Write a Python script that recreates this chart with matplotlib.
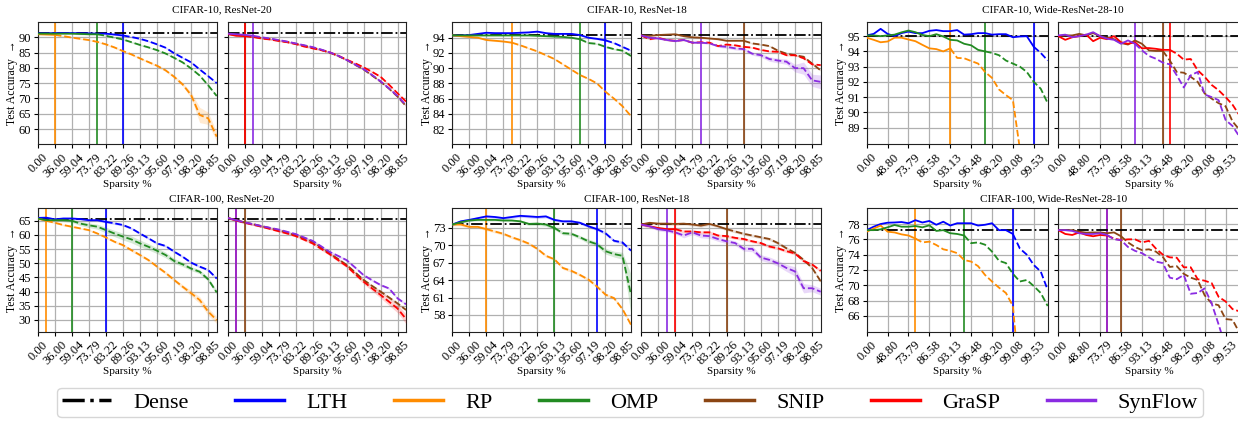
import numpy as np
import matplotlib.pyplot as plt
from matplotlib.lines import Line2D

plt.rcParams['font.family'] = ['Liberation Serif', 'DejaVu Serif']
plt.rcParams['font.size'] = 8

W, H = 1238, 421

methods_left = ['LTH', 'RP', 'OMP']
methods_right = ['SNIP', 'GraSP', 'SynFlow']
colors = {'Dense': 'black', 'LTH': '#0000ff', 'RP': '#ff8c00', 'OMP': '#228b22',
          'SNIP': '#8b4513', 'GraSP': '#ff0000', 'SynFlow': '#8a2be2'}

ticks_resnet = ['0.00', '36.00', '59.04', '73.79', '83.22', '89.26', '93.13',
                '95.60', '97.19', '98.20', '98.85']
ticks_wrn = ['0.00', '48.80', '73.79', '86.58', '93.13', '96.48', '98.20',
             '99.08', '99.53']

# ---- CIFAR-10, ResNet-20
c10_r20_dense = 91.3
c10_r20 = {
    'LTH': [91.3, 91.3, 91.4, 91.4, 91.4, 91.3, 91.3, 91.2, 91.2, 90.9, 90.6, 90.1, 89.5, 88.7, 87.7, 86.6, 84.8, 83.3, 81.8, 79.5, 77.3, 75.0],
    'RP': [91.0, 90.9, 90.8, 90.4, 89.9, 89.5, 89.1, 88.5, 87.7, 86.7, 85.5, 84.4, 83.1, 81.9, 80.7, 79.2, 77.1, 74.6, 71.1, 64.6, 63.5, 57.5],
    'OMP': [91.2, 91.2, 91.2, 91.2, 91.2, 91.1, 91.0, 91.0, 90.5, 89.9, 89.3, 88.4, 87.5, 86.7, 85.8, 84.7, 83.3, 81.8, 79.8, 77.5, 74.3, 70.8],
    'SNIP': [91.1, 90.8, 90.5, 90.2, 89.8, 89.4, 89.0, 88.5, 87.9, 87.3, 86.6, 85.9, 85.0, 83.9, 82.6, 81.0, 79.5, 77.5, 75.5, 73.2, 70.6, 67.5],
    'GraSP': [91.1, 90.5, 90.4, 90.1, 89.6, 89.3, 88.8, 88.4, 87.8, 87.0, 86.4, 85.8, 85.1, 84.0, 82.7, 81.5, 80.2, 78.7, 77.1, 74.5, 71.7, 69.0],
    'SynFlow': [91.2, 91.0, 90.8, 90.5, 90.0, 89.6, 89.1, 88.6, 88.0, 87.4, 86.8, 86.0, 85.1, 84.0, 82.6, 81.1, 79.6, 77.7, 75.6, 73.3, 70.8, 67.8],
}
c10_r20_cut = {'LTH': 10, 'RP': 2, 'OMP': 7, 'SNIP': 2, 'GraSP': 2, 'SynFlow': 3}
c10_r20_std = {'RP': [0.2, 0.2, 0.2, 0.2, 0.2, 0.2, 0.2, 0.2, 0.3, 0.3, 0.3, 0.3, 0.3, 0.3, 0.4, 0.4, 0.5, 0.6, 1.0, 2.5, 2.0, 1.5]}

# ---- CIFAR-10, ResNet-18
c10_r18_dense = 94.3
c10_r18 = {
    'LTH': [94.3, 94.3, 94.35, 94.5, 94.65, 94.6, 94.6, 94.6, 94.65, 94.7, 94.8, 94.6, 94.5, 94.5, 94.5, 94.35, 94.0, 93.85, 93.65, 93.3, 92.8, 92.3],
    'RP': [94.3, 94.2, 94.1, 94.0, 93.7, 93.6, 93.5, 93.35, 93.0, 92.6, 92.2, 91.7, 91.2, 90.5, 89.8, 89.1, 88.6, 88.0, 86.9, 86.0, 85.0, 83.7],
    'OMP': [94.3, 94.3, 94.3, 94.3, 94.3, 94.3, 94.3, 94.3, 94.3, 94.3, 94.25, 94.2, 94.15, 94.1, 94.0, 93.8, 93.3, 93.2, 92.8, 92.5, 92.3, 91.6],
    'SNIP': [94.3, 94.25, 94.35, 94.4, 94.45, 94.2, 94.05, 94.0, 93.9, 93.8, 93.6, 93.6, 93.6, 93.25, 93.1, 92.9, 92.3, 91.9, 91.7, 91.5, 90.6, 89.7],
    'GraSP': [94.3, 93.8, 94.0, 93.7, 93.6, 93.7, 93.35, 93.4, 93.35, 92.9, 93.1, 93.0, 92.8, 92.7, 92.4, 92.2, 92.15, 91.7, 91.7, 91.3, 90.5, 90.4],
    'SynFlow': [94.3, 94.0, 93.9, 93.7, 93.55, 93.7, 93.35, 93.35, 93.25, 92.9, 92.8, 92.6, 92.5, 91.9, 91.7, 91.2, 91.0, 90.85, 90.0, 90.0, 88.4, 88.2],
}
c10_r18_cut = {'LTH': 18, 'RP': 7, 'OMP': 15, 'SNIP': 12, 'GraSP': None, 'SynFlow': 7}
c10_r18_std = {'SynFlow': [0.1, 0.1, 0.1, 0.1, 0.1, 0.1, 0.1, 0.1, 0.1, 0.15, 0.2, 0.2, 0.2, 0.2, 0.25, 0.3, 0.3, 0.35, 0.5, 0.8, 0.8, 0.9]}

# ---- CIFAR-10, Wide-ResNet-28-10
c10_wrn_dense = 95.0
c10_wrn = {
    'LTH': [95.05, 95.15, 95.48, 95.15, 95.0, 95.2, 95.3, 95.2, 95.2, 95.35, 95.4, 95.33, 95.33, 95.4, 95.1, 95.13, 95.2, 95.2, 95.1, 95.13, 95.13, 94.93, 94.98, 95.0, 94.3, 93.9, 93.4],
    'RP': [94.9, 94.76, 94.6, 94.65, 94.9, 94.9, 94.78, 94.67, 94.43, 94.2, 94.15, 94.0, 94.2, 93.57, 93.55, 93.37, 93.2, 92.65, 92.26, 91.5, 91.13, 90.8, 87.6, 84.0, 80.0, 76.0, 72.0],
    'OMP': [95.05, 95.05, 95.0, 95.05, 95.1, 95.25, 95.37, 95.26, 95.08, 95.0, 95.13, 94.98, 94.76, 94.72, 94.5, 94.4, 94.1, 94.0, 93.9, 93.75, 93.4, 93.2, 93.0, 92.65, 92.0, 91.55, 90.6],
    'SNIP': [95.0, 95.05, 95.05, 95.15, 95.05, 95.2, 95.0, 94.9, 94.8, 94.55, 94.45, 94.72, 94.5, 94.07, 94.03, 94.03, 93.4, 92.65, 92.6, 92.33, 92.0, 91.24, 90.9, 90.6, 90.4, 89.4, 88.85],
    'GraSP': [95.0, 94.76, 94.93, 95.0, 95.1, 94.67, 94.9, 94.8, 95.0, 94.6, 94.5, 94.6, 94.2, 94.22, 94.17, 94.1, 94.1, 93.85, 93.46, 93.5, 92.76, 92.33, 91.8, 91.45, 91.0, 90.5, 89.8],
    'SynFlow': [95.05, 95.1, 94.93, 95.0, 95.1, 95.26, 95.0, 94.83, 94.76, 94.5, 94.72, 94.5, 94.07, 93.7, 93.52, 93.26, 93.15, 92.43, 91.63, 92.43, 92.65, 91.17, 91.0, 90.8, 89.5, 89.1, 88.4],
}
c10_wrn_cut = {'LTH': 24, 'RP': 12, 'OMP': 17, 'SNIP': 15, 'GraSP': 16, 'SynFlow': 11}
c10_wrn_std = {}

# ---- CIFAR-100, ResNet-20
c100_r20_dense = 65.6
c100_r20 = {
    'LTH': [66.0, 66.1, 65.5, 65.8, 65.8, 65.6, 65.2, 65.2, 64.6, 64.1, 63.5, 62.3, 60.5, 58.8, 57.0, 56.1, 54.1, 52.3, 50.2, 48.8, 47.6, 44.6],
    'RP': [65.8, 65.0, 64.3, 63.5, 62.9, 62.3, 61.7, 60.5, 59.1, 57.6, 56.4, 54.6, 52.9, 51.1, 48.8, 46.6, 44.1, 41.7, 39.4, 37.0, 32.9, 29.9],
    'OMP': [65.8, 65.2, 65.2, 65.2, 65.0, 64.0, 63.4, 62.9, 61.7, 60.5, 59.4, 58.4, 57.0, 55.8, 54.4, 52.9, 50.8, 49.6, 48.1, 47.0, 44.3, 39.7],
    'SNIP': [66.0, 65.2, 64.4, 63.8, 63.1, 62.4, 61.7, 60.8, 59.9, 58.8, 57.6, 55.6, 53.5, 51.5, 49.4, 46.8, 44.1, 42.0, 40.0, 37.9, 35.8, 33.5],
    'GraSP': [66.0, 65.1, 64.3, 63.6, 62.9, 62.1, 61.3, 60.5, 59.6, 58.3, 57.0, 55.1, 53.2, 51.1, 49.0, 46.2, 43.5, 41.1, 38.8, 36.4, 34.0, 30.3],
    'SynFlow': [66.0, 65.2, 64.4, 63.8, 63.1, 62.5, 61.9, 61.1, 60.3, 59.1, 57.9, 56.0, 54.0, 52.6, 51.1, 48.5, 45.8, 44.0, 42.3, 41.1, 37.6, 35.5],
}
c100_r20_cut = {'LTH': 8, 'RP': 1, 'OMP': 4, 'SNIP': 2, 'GraSP': 1, 'SynFlow': 1}
c100_r20_std = {
    'OMP': [0.3, 0.3, 0.4, 0.5, 0.6, 0.7, 0.8, 0.9, 1.0, 1.1, 1.2, 1.2, 1.2, 1.1, 1.0, 1.0, 0.9, 0.8, 0.7, 0.7, 0.7, 0.8],
    'RP': [0.3, 0.3, 0.3, 0.3, 0.3, 0.3, 0.3, 0.3, 0.4, 0.4, 0.4, 0.5, 0.5, 0.5, 0.5, 0.6, 0.6, 0.7, 1.0, 1.2, 1.3, 1.2],
    'GraSP': [0.3, 0.3, 0.3, 0.3, 0.3, 0.3, 0.3, 0.3, 0.3, 0.4, 0.4, 0.5, 0.5, 0.6, 0.6, 0.7, 0.8, 0.9, 1.1, 1.3, 1.5, 1.7],
}

# ---- CIFAR-100, ResNet-18
c100_r18_dense = 73.7
c100_r18 = {
    'LTH': [73.6, 74.15, 74.4, 74.7, 75.0, 74.9, 74.7, 74.9, 75.1, 75.0, 74.9, 75.0, 74.4, 74.15, 74.15, 73.9, 73.3, 72.8, 72.1, 70.8, 70.5, 69.1],
    'RP': [73.6, 73.6, 73.2, 73.2, 72.8, 72.4, 72.0, 71.4, 70.9, 70.3, 69.4, 68.2, 67.6, 66.1, 65.6, 64.9, 64.1, 62.9, 61.5, 60.9, 59.0, 56.3],
    'OMP': [73.6, 74.0, 74.3, 74.4, 74.4, 74.4, 74.3, 74.3, 74.15, 73.7, 73.75, 73.6, 73.0, 72.1, 72.0, 71.4, 70.7, 70.2, 69.0, 68.5, 68.2, 61.5],
    'SNIP': [73.6, 73.9, 73.75, 73.75, 73.7, 73.75, 73.6, 73.4, 73.7, 73.3, 72.8, 72.4, 72.0, 71.7, 71.4, 71.1, 70.4, 69.5, 68.7, 67.5, 66.1, 63.8],
    'GraSP': [73.6, 73.3, 73.0, 72.8, 72.8, 72.4, 72.4, 72.25, 72.25, 71.7, 71.6, 71.3, 71.1, 70.7, 70.4, 69.8, 69.5, 69.0, 68.6, 67.3, 66.7, 65.6],
    'SynFlow': [73.6, 73.3, 72.8, 72.6, 72.25, 71.7, 72.25, 71.7, 71.6, 71.1, 70.7, 70.4, 69.4, 69.4, 67.9, 67.5, 66.9, 66.1, 65.5, 62.6, 62.6, 62.0],
}
c100_r18_cut = {'LTH': 17, 'RP': 4, 'OMP': 12, 'SNIP': 10, 'GraSP': 4, 'SynFlow': 3}
c100_r18_std = {
    'OMP': [0.2, 0.2, 0.2, 0.2, 0.2, 0.2, 0.2, 0.2, 0.2, 0.3, 0.3, 0.3, 0.3, 0.3, 0.3, 0.3, 0.4, 0.4, 0.5, 0.5, 0.6, 3.5],
    'SynFlow': [0.2, 0.2, 0.3, 0.3, 0.3, 0.4, 0.4, 0.4, 0.4, 0.4, 0.4, 0.4, 0.4, 0.5, 0.5, 0.5, 0.5, 0.6, 0.8, 0.8, 0.6, 0.6],
}

# ---- CIFAR-100, Wide-ResNet-28-10
c100_wrn_dense = 77.2
c100_wrn = {
    'LTH': [77.2, 77.65, 78.0, 78.17, 78.2, 78.26, 78.1, 78.5, 78.2, 78.4, 77.9, 78.3, 77.8, 78.1, 78.1, 78.1, 77.8, 77.9, 78.1, 77.2, 77.2, 76.7, 74.8, 74.0, 72.65, 71.8, 69.4],
    'RP': [77.0, 77.4, 77.8, 77.0, 76.9, 76.65, 76.5, 76.1, 75.6, 75.7, 75.26, 74.7, 74.5, 74.2, 73.3, 73.1, 72.5, 71.35, 70.5, 69.7, 69.0, 67.3, 57.5, 52.0, 48.0, 45.0, 42.0],
    'OMP': [77.2, 77.2, 77.3, 77.57, 77.87, 77.65, 77.65, 77.74, 77.57, 77.83, 77.1, 77.2, 76.8, 76.7, 76.5, 75.5, 75.6, 75.3, 74.4, 73.2, 72.9, 71.5, 70.5, 70.7, 69.9, 69.0, 67.3],
    'SNIP': [77.2, 77.2, 77.2, 77.0, 76.87, 76.9, 76.9, 76.8, 76.9, 76.4, 75.6, 75.0, 74.6, 74.7, 74.4, 73.7, 72.4, 72.5, 71.5, 71.0, 70.7, 68.7, 67.65, 67.4, 65.6, 65.5, 63.8],
    'GraSP': [77.2, 76.7, 76.57, 76.9, 76.57, 76.4, 76.57, 76.5, 76.1, 75.9, 76.0, 76.0, 75.6, 75.8, 74.8, 74.0, 73.65, 73.6, 72.35, 72.35, 70.8, 70.6, 70.3, 68.5, 67.9, 66.9, 66.6],
    'SynFlow': [77.2, 77.2, 77.1, 76.8, 76.7, 76.7, 76.8, 76.57, 76.0, 75.9, 75.0, 74.5, 74.2, 73.65, 73.1, 72.9, 71.0, 70.8, 71.35, 68.9, 69.0, 69.6, 67.65, 64.9, 62.0, 59.0, 56.0],
}
c100_wrn_cut = {'LTH': 21, 'RP': 7, 'OMP': 14, 'SNIP': 9, 'GraSP': 7, 'SynFlow': 7}
c100_wrn_std = {}

fig = plt.figure(figsize=(W / 100, H / 100), dpi=100)


def add_ax(x0, x1, top, bottom):
    return fig.add_axes([x0 / W, 1 - bottom / H, (x1 - x0) / W, (bottom - top) / H])


def draw(ax, data, names, dense, cuts, stds, band, ylim, yticks, step, labels):
    n = len(data[names[0]])
    x = np.arange(n)
    for name in names:
        if cuts[name] is not None:
            ax.axvline(cuts[name], color=colors[name], lw=1.2, zorder=2)
    ax.axhline(dense, color='black', ls='-.', lw=1.3, zorder=2.5)
    for name in names:
        y = np.array(data[name])
        s = np.array(stds.get(name, [band] * n))
        c = colors[name]
        if band > 0 or name in stds:
            ax.fill_between(x, y - s, y + s, color=c, alpha=0.18, lw=0, zorder=2.6)
        k = cuts[name]
        if k is None:
            ax.plot(x, y, color=c, ls='--', lw=1.3, zorder=3)
        else:
            ax.plot(x[:k + 1], y[:k + 1], color=c, lw=1.3, zorder=3)
            ax.plot(x[k:], y[k:], color=c, ls='--', lw=1.3, zorder=3)
    ax.set_xlim(0, n - 1)
    ax.set_ylim(*ylim)
    ax.set_yticks(yticks)
    ax.set_xticks(np.arange(0, n, step))
    ax.set_xticklabels(labels, rotation=45)
    ax.tick_params(labelsize=9, length=3, pad=2)
    ax.grid(True, color='#b0b0b0', lw=0.9)
    ax.set_axisbelow(True)
    for sp in ax.spines.values():
        sp.set_color('#222222')
    ax.set_xlabel('Sparsity %', labelpad=0)


groups = [
    ('CIFAR-10, ResNet-20', c10_r20, c10_r20_dense, c10_r20_cut, c10_r20_std, 0.25, (55, 95.1), range(60, 91, 5), 2, ticks_resnet),
    ('CIFAR-10, ResNet-18', c10_r18, c10_r18_dense, c10_r18_cut, c10_r18_std, 0.1, (80, 96.1), range(82, 95, 2), 2, ticks_resnet),
    ('CIFAR-10, Wide-ResNet-28-10', c10_wrn, c10_wrn_dense, c10_wrn_cut, c10_wrn_std, 0.0, (87.9, 95.95), range(89, 96), 3, ticks_wrn),
    ('CIFAR-100, ResNet-20', c100_r20, c100_r20_dense, c100_r20_cut, c100_r20_std, 0.4, (25.8, 69.4), range(30, 66, 5), 2, ticks_resnet),
    ('CIFAR-100, ResNet-18', c100_r18, c100_r18_dense, c100_r18_cut, c100_r18_std, 0.25, (55.1, 76.4), range(58, 74, 3), 2, ticks_resnet),
    ('CIFAR-100, Wide-ResNet-28-10', c100_wrn, c100_wrn_dense, c100_wrn_cut, c100_wrn_std, 0.0, (63.95, 80.05), range(66, 79, 2), 3, ticks_wrn),
]

col_x = [(37.7, 216.7, 227.7, 406.0), (452.3, 631.0, 641.0, 820.7), (866.7, 1047.7, 1058.3, 1239.5)]
row_y = [(21.7, 144.3, 10.0), (208.3, 331.7, 199.0)]

for gi, (title, data, dense, cuts, stds, band, ylim, yt, step, labels) in enumerate(groups):
    r, c = divmod(gi, 3)
    xa, xb, xc, xd = col_x[c]
    top, bottom, ty = row_y[r]
    axl = add_ax(xa, xb, top, bottom)
    axr = add_ax(xc, xd, top, bottom)
    draw(axl, data, methods_left, dense, cuts, stds, band, ylim, yt, step, labels)
    draw(axr, data, methods_right, dense, cuts, stds, band, ylim, yt, step, labels)
    axr.set_yticklabels([])
    axl.set_ylabel('Test Accuracy  \u2192', labelpad=0, fontsize=8.5)
    fig.text((xa + xd) / 2 / W, 1 - ty / H, title, ha='center', va='center', fontsize=8)

handles = [Line2D([], [], color='black', ls='-.', lw=2.5)]
handles += [Line2D([], [], color=colors[m], lw=2.5) for m in methods_left + methods_right]
fig.legend(handles, ['Dense'] + methods_left + methods_right, loc='lower center',
           bbox_to_anchor=(630 / W, -0.018), ncol=7, fontsize=16, handlelength=2.2,
           columnspacing=2.1, handletextpad=1.0, borderpad=0.2, frameon=True)

fig.savefig('out.png', dpi=100)
